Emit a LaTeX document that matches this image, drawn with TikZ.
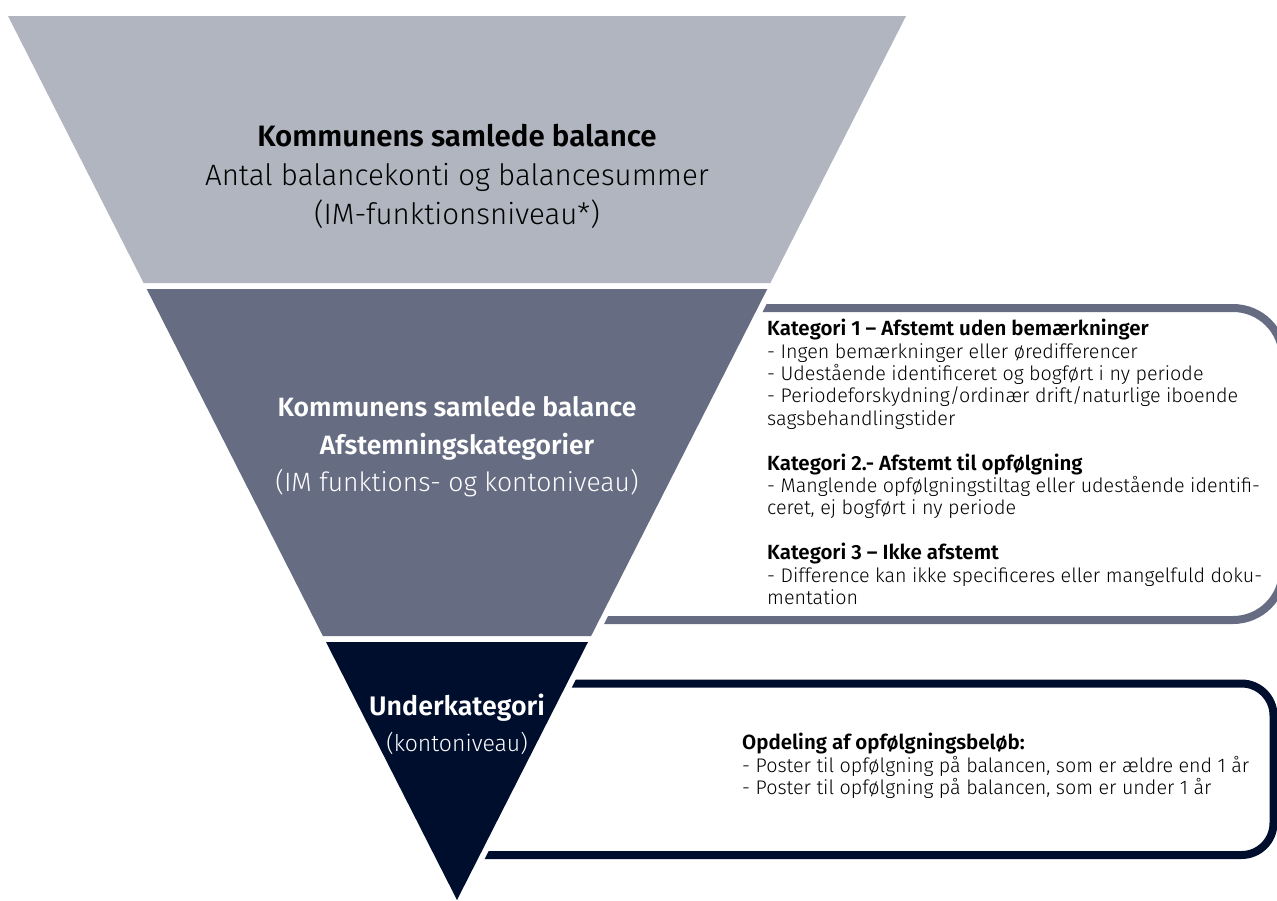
\documentclass[tikz,border=0pt]{standalone}
\usepackage{fontspec}
\usetikzlibrary{calc}
\setmainfont{Fira Sans}[UprightFont={* Light}, BoldFont={* SemiBold}]
\definecolor{lightslice}{HTML}{B1B5C0}
\definecolor{midslice}{HTML}{666C82}
\definecolor{darkslice}{HTML}{000E2E}
\newcommand{\sidehead}[1]{{\fontsize{20.5}{22.4}\selectfont\bfseries #1}}
\tikzset{
  bracketline/.style={line width=8pt},
  bigtext/.style={align=center, inner sep=0pt},
  sidetext/.style={align=left, inner sep=0pt, anchor=west, font=\fontsize{19.7}{22.4}\selectfont},
}
\begin{document}
\begin{tikzpicture}[x=1pt,y=-1pt]
\useasboundingbox (0,0) rectangle (1277,900);
% brackets
\draw[bracketline, midslice, rounded corners=50pt] (560,308) -- (1283,308) -- (1283,620) -- (560,620);
\draw[bracketline, darkslice, rounded corners=32pt] (465,683.5) -- (1273.5,683.5) -- (1273.5,855) -- (465,855);
% white gap along the triangle edge
\coordinate (tipR) at (906,16);
\coordinate (apex) at (457,900);
\draw[white, line width=12pt] ($(tipR)!-0.05!(apex)$) -- ($(apex)!-0.05!(tipR)$);
% slices
\fill[lightslice] (8,16) -- (906,16) -- (770.4,283) -- (143.6,283) -- cycle;
\fill[midslice] (146.7,289) -- (767.3,289) -- (591.1,636) -- (322.9,636) -- cycle;
\fill[darkslice] (326,642) -- (588,642) -- (apex) -- cycle;
% texts
\node[bigtext, font=\fontsize{29.5}{39}\selectfont] (toptext) at (457,176)
  {\textbf{Kommunens samlede balance}\\Antal balancekonti og balancesummer\\(IM-funktionsniveau*)};
\node[bigtext, text=white, font=\fontsize{26.5}{37.5}\selectfont] (midtext) at (457,447)
  {\textbf{Kommunens samlede balance}\\\textbf{Afstemningskategorier}\\(IM funktions- og kontoniveau)};
\node[bigtext, text=white, font=\fontsize{23}{36}\selectfont] (bottext) at (457,724)
  {{\fontsize{26.8}{36}\selectfont\bfseries Underkategori}\\(kontoniveau)};
\node[sidetext] (cattext) at (767,462)
  {\sidehead{Kategori 1 – Afstemt uden bemærkninger}\\
   - Ingen bemærkninger eller øredifferencer\\
   - Udestående identificeret og bogført i ny periode\\
   - Periodeforskydning/ordinær drift/naturlige iboende\\
   sagsbehandlingstider\\[22.4pt]
   \sidehead{Kategori 2.- Afstemt til opfølgning}\\
   - Manglende opfølgningstiltag eller udestående identifi-\\
   ceret, ej bogført i ny periode\\[22.4pt]
   \sidehead{Kategori 3 – Ikke afstemt}\\
   - Difference kan ikke specificeres eller mangelfuld doku-\\
   mentation};
\node[sidetext] (subtext) at (742,766)
  {\sidehead{Opdeling af opfølgningsbeløb:}\\
   - Poster til opfølgning på balancen, som er ældre end 1 år\\
   - Poster til opfølgning på balancen, som er under 1 år};
\end{tikzpicture}
\end{document}
